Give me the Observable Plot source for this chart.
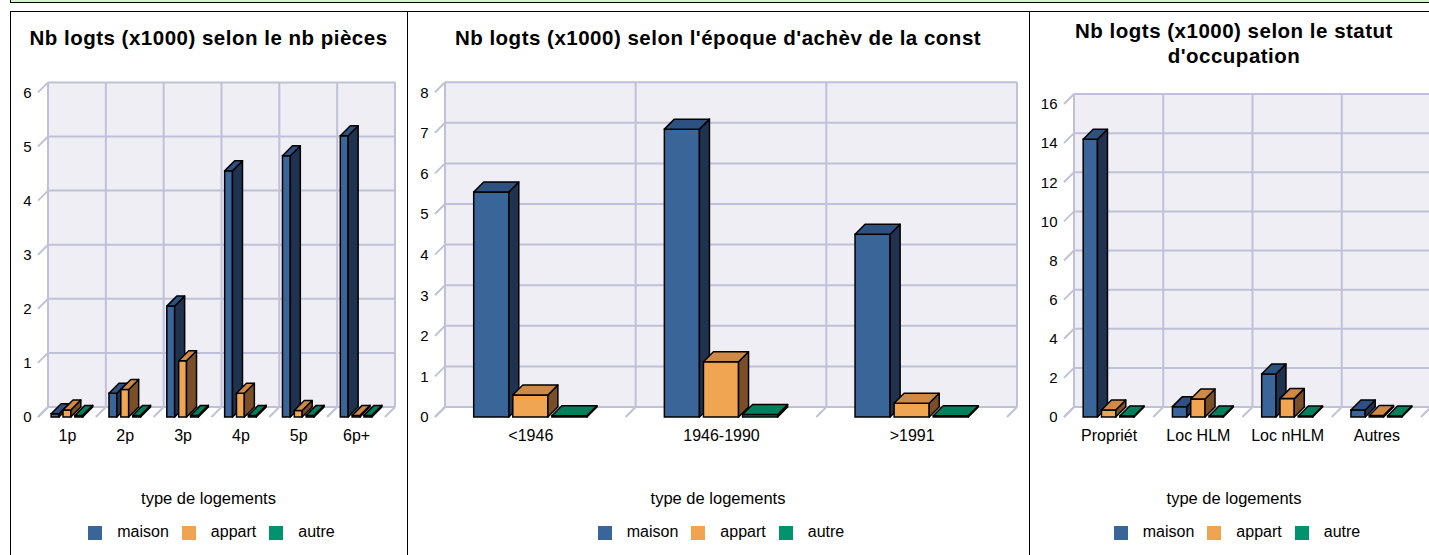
<!DOCTYPE html>
<html>
<head>
<meta charset="utf-8">
<script src="https://cdn.jsdelivr.net/npm/d3@7"></script>
<script src="https://cdn.jsdelivr.net/npm/@observablehq/plot@0.6"></script>
<style>
html, body { margin: 0; padding: 0; background: #fff; overflow: hidden; width: 1429px; height: 555px; }
body { position: relative; font-family: "Liberation Sans", Arial, sans-serif; color: #000; }
.topbar { position: absolute; left: 10px; top: -20px; width: 1500px; height: 23px; background: #d3f4ca; border: 1px solid #000; box-sizing: border-box; }
.panel { position: absolute; top: 11px; height: 700px; border-left: 1px solid #000; border-top: 1px solid #000; box-sizing: border-box; }
.title { position: absolute; text-align: center; font-weight: bold; font-size: 20.5px; letter-spacing: 0.5px; line-height: 25px; white-space: nowrap; }
.chart { position: absolute; top: 60px; height: 400px; }
.chart svg { max-width: none !important; display: block; }
.ltitle { position: absolute; text-align: center; font-size: 16.5px; line-height: 20px; top: 488px; }
.legend { position: absolute; top: 522px; height: 20px; display: flex; justify-content: center; align-items: center; box-sizing: border-box; padding-left: 6px; font-size: 16px; line-height: 20px; }
.sw { width: 14px; height: 14px; margin-right: 15px; margin-top: 2px; }
.lab { margin-right: 13px; }
</style>
</head>
<body>
<div class="topbar"></div>
<div id="root"></div>
<script>
// ---------- data ----------
const series = ["maison", "appart", "autre"];
const legendTitle = "type de logements";

const piecesTitle = ["Nb logts (x1000) selon le nb pièces"];
const piecesCats = ["1p", "2p", "3p", "4p", "5p", "6p+"];
const piecesMaison = [0.06, 0.44, 2.05, 4.55, 4.83, 5.2];
const piecesAppart = [0.13, 0.51, 1.04, 0.44, 0.12, 0.03];
const piecesAutre = [0.03, 0.03, 0.03, 0.03, 0.03, 0.03];
const piecesTicks = [0, 1, 2, 3, 4, 5, 6];

const epoqueTitle = ["Nb logts (x1000) selon l'époque d'achèv de la const"];
const epoqueCats = ["<1946", "1946-1990", ">1991"];
const epoqueMaison = [5.54, 7.09, 4.5];
const epoqueAppart = [0.54, 1.36, 0.34];
const epoqueAutre = [0.03, 0.06, 0.03];
const epoqueTicks = [0, 1, 2, 3, 4, 5, 6, 7, 8];

const statutTitle = ["Nb logts (x1000) selon le statut", "d'occupation"];
const statutCats = ["Propriét", "Loc HLM", "Loc nHLM", "Autres"];
const statutMaison = [14.2, 0.53, 2.2, 0.36];
const statutAppart = [0.36, 0.92, 0.94, 0.08];
const statutAutre = [0.05, 0.05, 0.05, 0.05];
const statutTicks = [0, 2, 4, 6, 8, 10, 12, 14, 16];

// ---------- styles ----------
const DX = 10, DY = -10;
const STEP_FRAC = 0.205;
const GRID = "#c0c0d8";
const WALL = "#efeef5";
const faces = {
  maison: {front: "#3a6598", side: "#1f3250", top: "#2d5282", legend: "#3a6598"},
  appart: {front: "#f0a552", side: "#7a4f27", top: "#d08944", legend: "#f0a452"},
  autre:  {front: "#00936c", side: "#004d39", top: "#007f5d", legend: "#00936e"}
};

function layout(bw) {
  const step = STEP_FRAC * bw;
  const w = step - 4;
  const start = (bw - (2 * step + w)) / 2;
  return {step, w, start};
}

function wallMark(ticks) {
  return (index, scales) => {
    const {x, y} = scales;
    const dom = x.domain();
    const bw = x.bandwidth();
    const x0 = x(dom[0]), x1 = x(dom[dom.length - 1]) + bw;
    const y0 = y(0), yT = y(ticks[ticks.length - 1]);
    const g = d3.create("svg:g");
    g.append("rect").attr("x", x0 + DX).attr("y", yT + DY)
      .attr("width", x1 - x0).attr("height", y0 - yT).attr("fill", WALL);
    const lines = [];
    for (const t of ticks) {
      const yy = y(t);
      lines.push([x0 + DX, yy + DY, x1 + DX, yy + DY]);
      lines.push([x0, yy, x0 + DX, yy + DY]);
    }
    for (let i = 0; i <= dom.length; i++) {
      const xb = x0 + i * bw;
      lines.push([xb + DX, yT + DY, xb + DX, y0 + DY]);
      lines.push([xb, y0, xb + DX, y0 + DY]);
    }
    g.selectAll("line").data(lines).join("line")
      .attr("x1", d => d[0]).attr("y1", d => d[1])
      .attr("x2", d => d[2]).attr("y2", d => d[3])
      .attr("stroke", GRID).attr("stroke-width", 2);
    return g.node();
  };
}

function sideTopMark(rows, si, col) {
  return (index, scales) => {
    const {x, y} = scales;
    const bw = x.bandwidth();
    const {step, w, start} = layout(bw);
    const g = d3.create("svg:g")
      .attr("stroke", "#000").attr("stroke-width", 1.5).attr("stroke-linejoin", "round");
    for (const r of rows) {
      const xl = x(r.cat) + start + si * step, xr = xl + w;
      const yt = y(r.v), yb = y(0);
      g.append("polygon")
        .attr("points", [[xr, yb], [xr, yt], [xr + DX, yt + DY], [xr + DX, yb + DY]].map(p => p.join(",")).join(" "))
        .attr("fill", col.side);
      g.append("polygon")
        .attr("points", [[xl, yt], [xr, yt], [xr + DX, yt + DY], [xl + DX, yt + DY]].map(p => p.join(",")).join(" "))
        .attr("fill", col.top);
    }
    return g.node();
  };
}

function chart({cats, vals, ticks, width, height, ml, mr, mt, mb}) {
  const bw = (width - ml - mr) / cats.length;
  const {step, w, start} = layout(bw);
  const marks = [
    wallMark(ticks),
    Plot.axisY(ticks, {tickSize: 0, tickPadding: 7, fontSize: 15, label: null, tickFormat: d => String(d)}),
    Plot.axisX({tickSize: 0, tickPadding: 12, fontSize: 16, label: null})
  ];
  series.forEach((s, i) => {
    const rows = cats.map((c, j) => ({cat: c, v: vals[i][j]}));
    const insetLeft = start + i * step;
    const insetRight = bw - insetLeft - w;
    marks.push(Plot.barY(rows, {
      x: "cat", y: "v", fill: faces[s].front, stroke: "#000", strokeWidth: 1.5,
      insetLeft, insetRight
    }));
    marks.push(sideTopMark(rows, i, faces[s]));
  });
  return Plot.plot({
    width, height,
    marginLeft: ml, marginRight: mr, marginTop: mt, marginBottom: mb,
    x: {domain: cats, padding: 0, round: false},
    y: {domain: [0, ticks[ticks.length - 1]]},
    style: {background: "none", overflow: "visible", maxWidth: "none", fontFamily: "'Liberation Sans', Arial, sans-serif", color: "#000"},
    marks
  });
}

const panels = [
  {left: 10, width: 397, title: piecesTitle, titleTop: 25.4,
   cats: piecesCats, vals: [piecesMaison, piecesAppart, piecesAutre], ticks: piecesTicks,
   ml: 28, mr: 22, mt: 32.4, mb: 43},
  {left: 407, width: 622, title: epoqueTitle, titleTop: 25.4,
   cats: epoqueCats, vals: [epoqueMaison, epoqueAppart, epoqueAutre], ticks: epoqueTicks,
   ml: 28, mr: 22, mt: 32.2, mb: 43},
  {left: 1029, width: 410, title: statutTitle, titleTop: 18.4,
   cats: statutCats, vals: [statutMaison, statutAppart, statutAutre], ticks: statutTicks,
   ml: 35, mr: 18, mt: 44, mb: 43}
];

const root = document.getElementById("root");
for (const p of panels) {
  const box = document.createElement("div");
  box.className = "panel";
  box.style.left = p.left + "px";
  box.style.width = p.width + "px";
  root.appendChild(box);

  const t = document.createElement("div");
  t.className = "title";
  t.style.left = p.left + "px";
  t.style.width = p.width + "px";
  t.style.top = p.titleTop + "px";
  t.innerHTML = p.title.map(s => s.replace(/&/g, "&amp;").replace(/</g, "&lt;")).join("<br>");
  root.appendChild(t);

  const c = document.createElement("div");
  c.className = "chart";
  c.style.left = p.left + "px";
  c.style.width = p.width + "px";
  const svg = chart({cats: p.cats, vals: p.vals, ticks: p.ticks, width: p.width, height: 400,
    ml: p.ml, mr: p.mr, mt: p.mt, mb: p.mb});
  svg.style.maxWidth = "none";
  svg.style.width = p.width + "px";
  svg.style.height = "400px";
  c.appendChild(svg);
  root.appendChild(c);

  const lt = document.createElement("div");
  lt.className = "ltitle";
  lt.style.left = p.left + "px";
  lt.style.width = p.width + "px";
  lt.textContent = legendTitle;
  root.appendChild(lt);

  const lg = document.createElement("div");
  lg.className = "legend";
  lg.style.left = p.left + "px";
  lg.style.width = p.width + "px";
  series.forEach((s, i) => {
    const sw = document.createElement("div");
    sw.className = "sw";
    sw.style.background = faces[s].legend;
    lg.appendChild(sw);
    const lb = document.createElement("span");
    lb.className = "lab";
    if (i === series.length - 1) lb.style.marginRight = "0";
    lb.textContent = s;
    lg.appendChild(lb);
  });
  root.appendChild(lg);
}
</script>
</body>
</html>
